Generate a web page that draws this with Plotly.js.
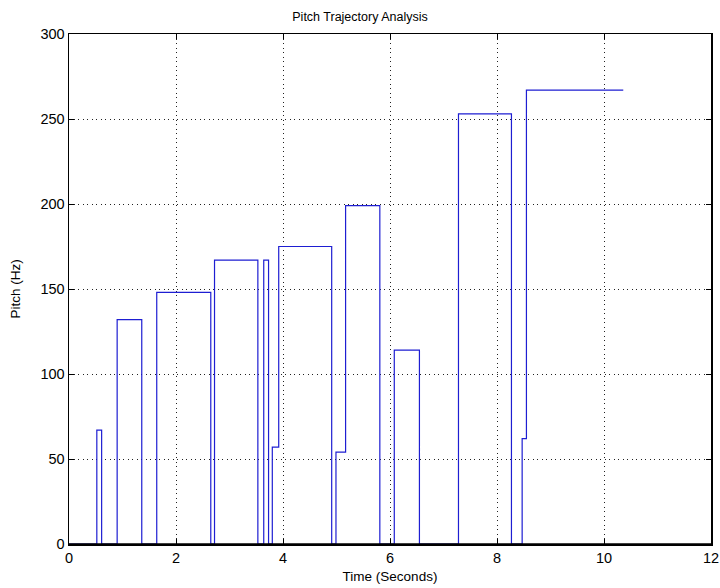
<!DOCTYPE html>
<html>
<head>
<meta charset="utf-8">
<script src="https://cdn.plot.ly/plotly-3.0.1.min.js"></script>
<style>html,body{margin:0;padding:0;background:#fff;}#chart{width:720px;height:588px;}</style>
</head>
<body>
<div id="chart"></div>
<script>
// Change points (seconds) and pitch held from each point (Hz)
const timeSec = [0, 0.52, 0.61, 0.90, 1.36, 1.64, 2.65, 2.72, 3.53, 3.64, 3.73, 3.80, 3.92, 4.91, 4.99, 5.17, 5.81, 6.08, 6.55, 7.28, 8.27, 8.47, 8.55, 10.36];
const pitchHz = [0, 67, 0, 132, 0, 148, 0, 167, 0, 167, 0, 57, 175, 0, 54, 199, 0, 114, 0, 253, 0, 62, 267, 267];
const xTicks = [0, 2, 4, 6, 8, 10, 12];
const yTicks = [0, 50, 100, 150, 200, 250, 300];

const trace = {
  x: timeSec, y: pitchHz, type: 'scatter', mode: 'lines',
  line: {shape: 'hv', color: 'rgb(30,30,210)', width: 1.2},
  hoverinfo: 'skip'
};

const axisCommon = {
  showline: true, linecolor: '#000', linewidth: 1.5, mirror: 'ticks',
  ticks: 'inside', ticklen: 5, tickcolor: '#000', tickwidth: 1,
  showgrid: true, gridcolor: '#222', griddash: '1px,3.5px', gridwidth: 1,
  zeroline: false, layer: 'above traces', automargin: false,
  tickfont: {size: 14.5, color: '#000'}
};

const layout = {
  width: 720, height: 588,
  margin: {l: 69, r: 9, t: 34, b: 44},
  paper_bgcolor: '#fff', plot_bgcolor: '#fff',
  font: {family: 'Liberation Sans, Arial, sans-serif', size: 13, color: '#000'},
  title: {text: 'Pitch Trajectory Analysis', x: 0.5, xanchor: 'center', y: 0.972, yanchor: 'middle', font: {size: 12.5}},
  showlegend: false,
  shapes: [{type: 'line', xref: 'paper', yref: 'y', x0: 0, x1: 1, y0: 0, y1: 0,
            layer: 'above', line: {color: '#000', width: 1.5}}],
  xaxis: Object.assign({}, axisCommon, {
    range: [0, 12], tickvals: xTicks, ticktext: xTicks.map(String),
    title: {text: 'Time (Seconds)', standoff: 6, font: {size: 13.5}}
  }),
  yaxis: Object.assign({}, axisCommon, {
    range: [0, 300], tickvals: yTicks, ticktext: yTicks.map(String),
    title: {text: 'Pitch (Hz)', standoff: 16, font: {size: 13.5}}
  })
};

Plotly.newPlot('chart', [trace], layout, {staticPlot: true, displayModeBar: false});
</script>
</body>
</html>
